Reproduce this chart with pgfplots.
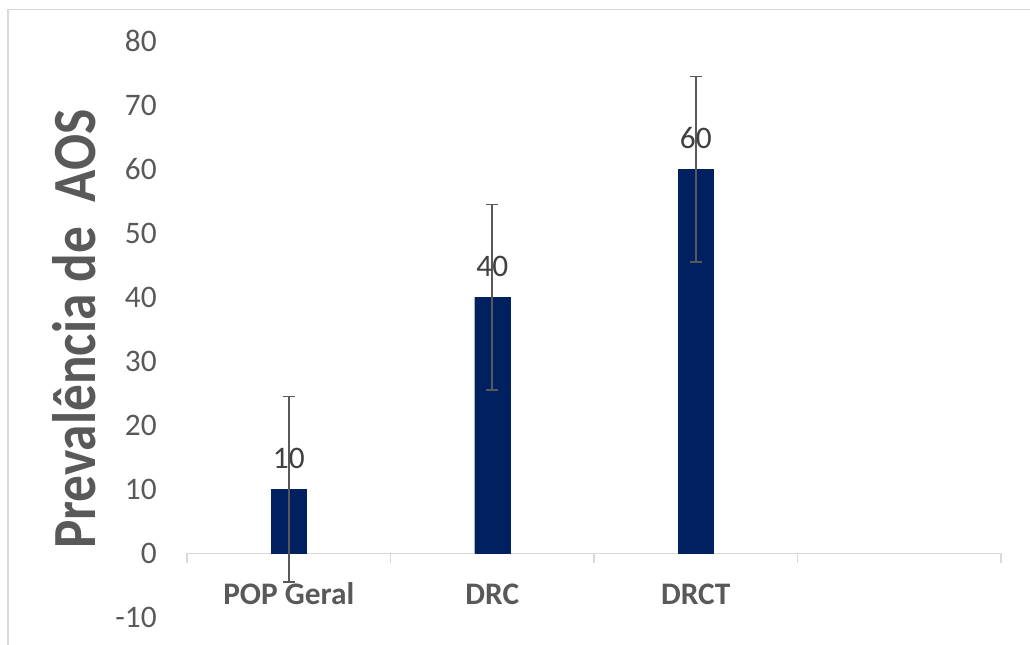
\documentclass[border=0pt]{standalone}
\usepackage{pgfplots}
\pgfplotsset{compat=1.18}
\usepackage{fontspec}
\setmainfont{Carlito}
\definecolor{barblue}{HTML}{002060}
\definecolor{txtgray}{HTML}{595959}
\definecolor{lblgray}{HTML}{404040}
\definecolor{axgray}{HTML}{D9D9D9}
\begin{document}
\begin{tikzpicture}
\useasboundingbox (0,0) rectangle (772.5pt,483.75pt);
% chart frame (only left and top edges are inside the picture)
\draw[axgray, line width=1pt] (6pt,-5pt) -- (6pt,476.8pt) -- (780pt,476.8pt);
\begin{axis}[
	at={(140.25pt,20.8pt)}, anchor=south west,
	width=610.5pt, height=432pt, scale only axis,
	ybar, bar width=26.5pt,
	ymin=-10, ymax=80, ytick={-10,0,...,80},
	xmin=-0.5, xmax=3.5,
	xtick={0,1,2}, xticklabels={POP Geral,DRC,DRCT},
	minor xtick={-0.5,0.5,1.5,2.5,3.5},
	axis x line=middle, axis y line=left,
	hide obscured y ticks=false,
	axis line style={-},
	x axis line style={axgray, line width=1pt},
	y axis line style={draw=none},
	tick align=outside,
	major tick length=0pt, minor tick length=7.5pt,
	every minor tick/.style={axgray, line width=1pt},
	ytick style={draw=none},
	/pgf/number format/assume math mode=true,
	yticklabel style={anchor=east, inner sep=0pt, xshift=-22.5pt,
		font=\fontsize{23.5}{28}\selectfont, text=txtgray},
	xticklabel style={anchor=base, yshift=-38.25pt,
		font=\fontsize{23.5}{28}\selectfont\bfseries, text=txtgray},
	ylabel={\scalebox{0.87}[1]{Prevalência de\ \ AOS}},
	every axis y label/.style={at={(axis description cs:-0.113,0.5)},
		rotate=90, anchor=base, inner sep=0pt,
		font=\fontsize{46}{52}\selectfont\bfseries, text=txtgray},
	nodes near coords,
	every node near coord/.append style={anchor=south, inner sep=0pt,
		yshift=15pt, font=\fontsize{23.5}{28}\selectfont, text=lblgray},
	error bars/y dir=both, error bars/y explicit,
	error bars/error mark=|,
	error bars/error bar style={draw=txtgray, line width=1.2pt},
	error bars/error mark options={draw=txtgray, line width=1.2pt, mark size=4.5pt},
	clip=false,
]
	\addplot[fill=barblue, draw=barblue, line width=0.1pt]
	coordinates {
		(0,10) +- (0,14.5)
		(1,40) +- (0,14.5)
		(2,60) +- (0,14.5)
	};
\end{axis}
\end{tikzpicture}
\end{document}
